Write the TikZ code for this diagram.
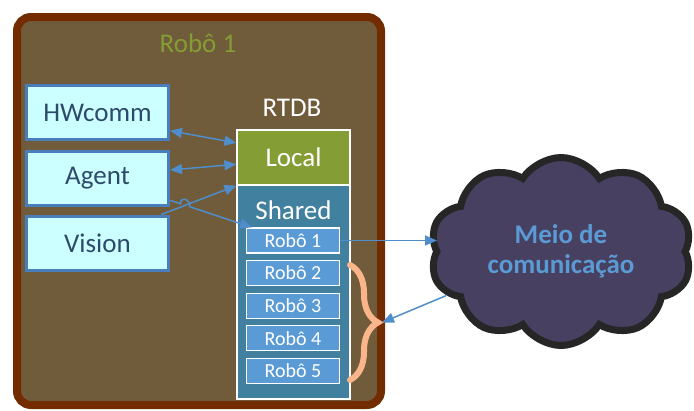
\documentclass[tikz,border=0pt]{standalone}
\usepackage{fontspec}
\setmainfont{Carlito}
\usetikzlibrary{arrows.meta,calc,shapes.symbols,decorations.pathreplacing}
\definecolor{robofill}{RGB}{112,92,58}
\definecolor{roboline}{RGB}{114,44,0}
\definecolor{olive}{RGB}{132,157,52}
\definecolor{modfill}{RGB}{204,255,255}
\definecolor{modline}{RGB}{74,126,187}
\definecolor{modtext}{RGB}{46,74,107}
\definecolor{sharedfill}{RGB}{65,128,158}
\definecolor{slotfill}{RGB}{91,155,213}
\definecolor{bracecol}{RGB}{250,181,139}
\definecolor{arrowcol}{RGB}{79,141,203}
\definecolor{cloudfill}{RGB}{71,64,96}
\definecolor{cloudline}{RGB}{38,38,38}
\tikzset{
  module/.style={draw=modline, fill=modfill, line width=3pt, minimum width=142pt,
    minimum height=54pt, text=modtext},
  dbpart/.style={draw=white, line width=1.2pt, minimum width=113pt, text=white},
  slot/.style={draw=white, fill=slotfill, line width=1.2pt, minimum width=93pt,
    minimum height=25pt, inner sep=0pt, text=white, font=\fontsize{20}{22}\selectfont},
  link/.style={draw=arrowcol, line width=1.5pt, >={Triangle[length=12pt,width=10pt]}},
}
\begin{document}
\begin{tikzpicture}[x=1pt, y=-1pt, font=\fontsize{27}{31}\selectfont]
    \useasboundingbox (0,0) rectangle (694,410);
    \clip (0,0) rectangle (694,410);
    \pgfmathsetmacro\slotgap{32.6};

    \draw[draw=roboline, fill=robofill, line width=8pt, rounded corners=14pt]
        (17,17) rectangle (381,405);
    \node[text=olive] (title) at (198,43) {Robô 1};

    \foreach \name/\txt/\y in {hw/HWcomm/112.5, ag/Agent/178, vi/Vision/243}
        \node[module] (\name) at (97.5,\y) {\txt};

    \node[text=white] (rtdb) at (292,108) {RTDB};
    \node[dbpart, fill=olive, minimum height=55pt] (lo) at (293.5,157.5) {Local};
    \node[dbpart, fill=sharedfill, minimum height=214pt] (sh) at (293.5,292) {};
    \node[text=white] (shtxt) at (293.5,210) {Shared};
    \foreach \i in {1,...,5}
        \node[slot] (r\i) at (293, 207.9 + \slotgap * \i) {Robô \i};

    \draw[draw=bracecol, line width=6pt, line cap=round, decorate,
        decoration={brace, amplitude=28pt}] (350,265) -- (350,380);
    \coordinate (tip) at (382,322.5);

    \node[cloud, cloud puffs=10, cloud puff arc=115, cloud ignores aspect,
        draw=cloudline, fill=cloudfill, line width=7pt,
        minimum width=262pt, minimum height=188pt, align=center, text=slotfill,
        font=\bfseries\fontsize{27}{30}\selectfont] (meio) at (561,251.5)
        {Meio de\\comunicação};

    \coordinate (agout) at ($(ag.north east)!0.89!(ag.south east)$);
    \coordinate (r1in) at ($(r1.north west)+(6,0)$);
    \coordinate (viout) at ($(vi.north west)!0.94!(vi.north east)$);
    \coordinate (losw) at (lo.south west);
    \coordinate (jmp) at (intersection of agout--r1in and viout--losw);

    \draw[link, <->] ($(hw.north east)!0.82!(hw.south east)$)
        -- ($(lo.north west)!0.24!(lo.south west)$);
    \draw[link, <->] ($(ag.north east)!0.36!(ag.south east)$)
        -- ($(lo.north west)!0.62!(lo.south west)$);
    \draw[link, ->] (viout) -- (losw);
    \draw[link, ->] (agout) -- ($(jmp)!5pt!(agout)$)
        .. controls +(0,-8) and +(0,-8) .. ($(jmp)!5pt!(r1in)$) -- (r1in);
    \draw[link, ->] (r1.east) -- ($(r1.east -| meio.west)+(4,0)$);
    \draw[link, ->] (meio.201) -- (tip);
\end{tikzpicture}
\end{document}
